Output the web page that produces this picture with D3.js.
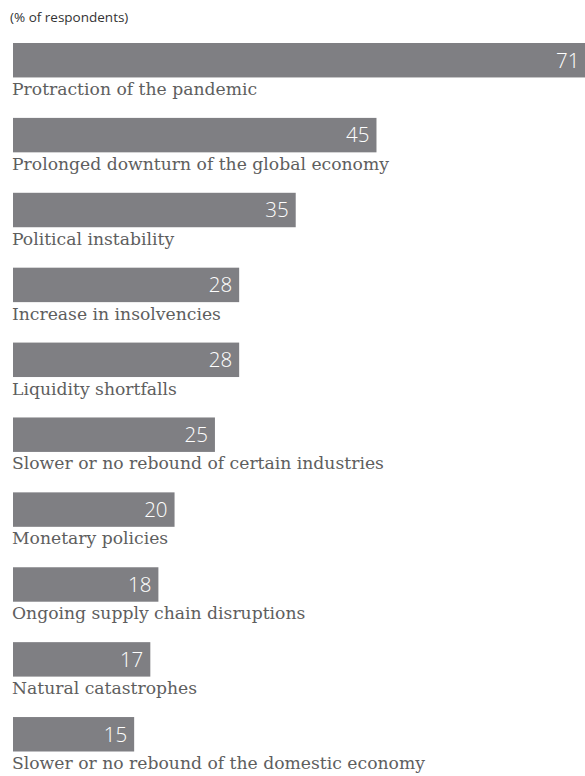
<!DOCTYPE html>
<html>
<head>
<meta charset="utf-8">
<script src="https://cdn.jsdelivr.net/npm/d3@7"></script>
<style>
  html, body { margin: 0; padding: 0; background: #fff; }
  svg { display: block; }
</style>
</head>
<body>
<svg id="chart"></svg>
<script>
const categories = [
  "Protraction of the pandemic",
  "Prolonged downturn of the global economy",
  "Political instability",
  "Increase in insolvencies",
  "Liquidity shortfalls",
  "Slower or no rebound of certain industries",
  "Monetary policies",
  "Ongoing supply chain disruptions",
  "Natural catastrophes",
  "Slower or no rebound of the domestic economy"
];
const values = [71, 45, 35, 28, 28, 25, 20, 18, 17, 15];
const unitLabel = "(% of respondents)";

const width = 585;
const height = 776;

const svg = d3.select("#chart")
    .attr("width", width)
    .attr("height", height)
    .attr("viewBox", [0, 0, width, height]);

const data = categories.map((c, i) => ({name: c, value: values[i]}));

const x = d3.scaleLinear()
    .domain([0, 71])
    .range([13, 586.5]);

const y = d3.scaleBand()
    .domain(categories)
    .range([43, 751.5])
    .paddingInner(0.54)
    .paddingOuter(0)
    .align(0);

svg.append("text")
    .attr("x", 10)
    .attr("y", 22)
    .attr("fill", "#333")
    .style("font", "13.5px 'Open Sans', sans-serif")
    .text(unitLabel);

const row = svg.selectAll("g.row")
    .data(data)
    .join("g")
    .attr("class", "row");

row.append("rect")
    .attr("x", x(0))
    .attr("y", d => y(d.name))
    .attr("width", d => x(d.value) - x(0))
    .attr("height", y.bandwidth())
    .attr("fill", "#7f7f83");

row.append("text")
    .attr("x", d => x(d.value) - 7)
    .attr("y", d => y(d.name) + y.bandwidth() / 2)
    .attr("dy", "0.36em")
    .attr("text-anchor", "end")
    .attr("fill", "#fff")
    .style("font", "300 20.5px 'Open Sans', sans-serif")
    .text(d => d.value);

row.append("text")
    .attr("x", 12)
    .attr("y", d => y(d.name) + y.bandwidth() + 17.5)
    .attr("fill", "#5e5e5e")
    .style("font", "17.2px 'DejaVu Serif', serif")
    .text(d => d.name);
</script>
</body>
</html>
